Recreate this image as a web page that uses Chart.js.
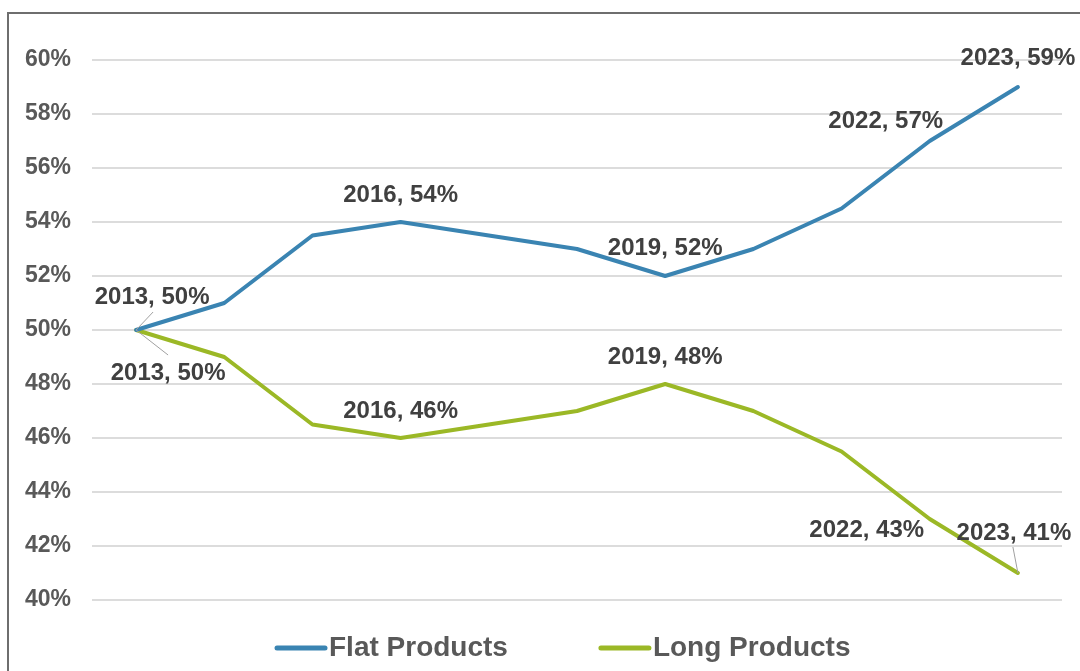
<!DOCTYPE html>
<html>
<head>
<meta charset="utf-8">
<script src="https://cdn.jsdelivr.net/npm/chart.js@4.4.1/dist/chart.umd.min.js"></script>
<style>
  html, body { margin: 0; padding: 0; background: #fff; overflow: hidden; }
  #wrap { position: relative; width: 1080px; height: 671px; }
  #frame { position: absolute; left: 7px; top: 12px; width: 1200px; height: 800px;
           border-left: 2px solid #6e6e6e; border-top: 2px solid #6e6e6e; pointer-events: none; }
  canvas { position: absolute; left: 0; top: 0; }
</style>
</head>
<body>
<div id="wrap">
  <canvas id="c" width="1080" height="671"></canvas>
  <div id="frame"></div>
</div>
<script>
// ---- data ----
const years = ['2013','2014','2015','2016','2017','2018','2019','2020','2021','2022','2023'];
const flatProducts = [50.0, 51.0, 53.5, 54.0, 53.5, 53.0, 52.0, 53.0, 54.5, 57.0, 59.0];
const longProducts = [50.0, 49.0, 46.5, 46.0, 46.5, 47.0, 48.0, 47.0, 45.5, 43.0, 41.0];
const seriesNames = ['Flat Products', 'Long Products'];
const labelledIndices = [0, 3, 6, 9, 10];
const labelValuesFlat = [50, 54, 52, 57, 59];
const labelValuesLong = [50, 46, 48, 43, 41];
const yTickValues = [40, 42, 44, 46, 48, 50, 52, 54, 56, 58, 60];

// ---- label placement (pixel offsets from each point, style only) ----
const labelPlacement = [
  [ {dx: 16, dy: -33, leader: [17, -18]}, {dx: 0, dy: -27}, {dx: 0, dy: -28}, {dx: -44, dy: -20}, {dx: 0, dy: -29} ],
  [ {dx: 32, dy: 43, leader: [32, 25]},  {dx: 0, dy: -27}, {dx: 0, dy: -27}, {dx: -63, dy: 11},  {dx: -4, dy: -40, leader: [-5, -26]} ]
];
const labelValues = [labelValuesFlat, labelValuesLong];

const FONT = '"Liberation Sans", Arial, sans-serif';

const dataLabelPlugin = {
  id: 'dataLabels',
  afterDatasetsDraw(chart) {
    const ctx = chart.ctx;
    ctx.save();
    chart.data.datasets.forEach((ds, di) => {
      const meta = chart.getDatasetMeta(di);
      labelledIndices.forEach((idx, k) => {
        const pt = meta.data[idx];
        const pl = labelPlacement[di][k];
        if (pl.leader) {
          ctx.strokeStyle = '#a0a0a0';
          ctx.lineWidth = 1;
          ctx.beginPath();
          ctx.moveTo(pt.x, pt.y);
          ctx.lineTo(pt.x + pl.leader[0], pt.y + pl.leader[1]);
          ctx.stroke();
        }
        ctx.font = 'bold 24px ' + FONT;
        ctx.fillStyle = '#404040';
        ctx.textAlign = 'center';
        ctx.textBaseline = 'middle';
        ctx.fillText(chart.data.labels[idx] + ', ' + labelValues[di][k] + '%', pt.x + pl.dx, pt.y + pl.dy);
      });
    });
    ctx.restore();
  }
};

const legendPlugin = {
  id: 'customLegend',
  afterDraw(chart) {
    const ctx = chart.ctx;
    ctx.save();
    ctx.font = 'bold 28px ' + FONT;
    ctx.textBaseline = 'middle';
    ctx.textAlign = 'left';
    let x = 275;
    const y = 648;
    chart.data.datasets.forEach((ds) => {
      ctx.strokeStyle = ds.borderColor;
      ctx.lineWidth = 5;
      ctx.lineCap = 'round';
      ctx.beginPath();
      ctx.moveTo(x + 2, y);
      ctx.lineTo(x + 50, y);
      ctx.stroke();
      ctx.fillStyle = '#595959';
      ctx.fillText(ds.label, x + 54, y);
      x += 54 + ctx.measureText(ds.label).width + 91;
    });
    ctx.restore();
  }
};

new Chart(document.getElementById('c'), {
  type: 'line',
  data: {
    labels: years,
    datasets: [
      { label: seriesNames[0], data: flatProducts, borderColor: '#3a84b2', backgroundColor: '#3a84b2',
        borderWidth: 4, pointRadius: 0, tension: 0, borderJoinStyle: 'round', borderCapStyle: 'round' },
      { label: seriesNames[1], data: longProducts, borderColor: '#9bb826', backgroundColor: '#9bb826',
        borderWidth: 4, pointRadius: 0, tension: 0, borderJoinStyle: 'round', borderCapStyle: 'round' }
    ]
  },
  options: {
    responsive: false,
    animation: false,
    devicePixelRatio: 1,
    layout: { padding: { top: 60, bottom: 71, left: 0, right: 18 } },
    plugins: {
      legend: { display: false },
      tooltip: { enabled: false }
    },
    scales: {
      x: {
        type: 'category',
        display: false,
        offset: true
      },
      y: {
        min: 40,
        max: 60,
        afterFit(scale) { scale.width = 92; },
        afterBuildTicks(scale) { scale.ticks = yTickValues.map(v => ({ value: v })); },
        border: { display: false },
        grid: { color: '#dcdcdc', lineWidth: 2, drawTicks: false },
        ticks: {
          padding: 21,
          color: '#595959',
          font: { family: FONT, size: 23, weight: 'bold' },
          callback: (v) => v + '%'
        }
      }
    }
  },
  plugins: [dataLabelPlugin, legendPlugin]
});
</script>
</body>
</html>
